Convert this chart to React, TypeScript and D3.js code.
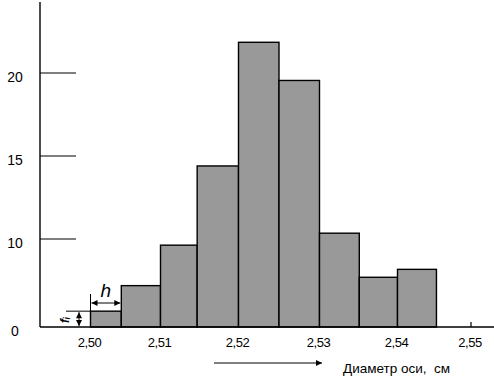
import React from 'react';
import * as d3 from 'd3';

// bin edges of the histogram (cm) and the frequency of each bin
const binEdges = [2.5, 2.5044, 2.51, 2.5147, 2.52, 2.525, 2.53, 2.5351, 2.54, 2.5453];
const frequencies = [1.8, 4.7, 9.3, 14.4, 21.85, 19.55, 10.35, 5.65, 6.55];

const xTicks = [2.5, 2.51, 2.52, 2.53, 2.54, 2.55];
const yTicks = [10, 15, 20];
const xTitle = 'Диаметр оси,  см';

const W = 494;
const H = 380;

// hand-drawn axes: the spacing between the labelled positions is not uniform
const x = d3.scaleLinear()
    .domain(xTicks)
    .range([90.5, 160.5, 238.5, 319.5, 397.5, 471]);

const y = d3.scaleLinear()
    .domain([0, 10, 20])
    .range([327, 239, 73]);

const fmt = (v: number) => v.toFixed(2).replace('.', ',');

const App: React.FC = () => {
    const bars = frequencies.map((f, i) => ({ x0: binEdges[i], x1: binEdges[i + 1], f }));
    const x0 = 40;
    const base = y(0);
    const b1 = bars[0];

    return (
        <svg width={W} height={H} style={{ position: 'absolute', left: 0, top: 0 }}
            fontFamily="'Liberation Sans', Arial, sans-serif">
            <defs>
                <marker id="ah" viewBox="0 0 10 10" refX="10" refY="5" markerWidth="7" markerHeight="6"
                    markerUnits="userSpaceOnUse" orient="auto-start-reverse">
                    <path d="M0,0 L10,5 L0,10 Z" fill="#000" />
                </marker>
            </defs>
            <rect width={W} height={H} fill="#fff" />

            {/* bars */}
            {bars.map((b, i) => (
                <rect key={i} x={x(b.x0)} y={y(b.f)} width={x(b.x1) - x(b.x0)} height={base - y(b.f)}
                    fill="#999999" stroke="#000" strokeWidth={1.4} />
            ))}

            {/* axes */}
            <line x1={x0} x2={x0} y1={2} y2={base} stroke="#000" strokeWidth={1.4} />
            <line x1={x0} x2={W} y1={base} y2={base} stroke="#000" strokeWidth={1.4} />
            {yTicks.map(t => (
                <line key={t} x1={x0} x2={76} y1={y(t)} y2={y(t)} stroke="#000" strokeWidth={1.2} />
            ))}
            <line x1={x(2.55)} x2={x(2.55)} y1={base - 5} y2={base} stroke="#000" strokeWidth={1.2} />

            {/* y labels */}
            {[0, ...yTicks].map(t => (
                <text key={t} x={15} y={y(t) + 4} dy="0.35em" textAnchor="middle" fontSize={14} fill="#000">{t}</text>
            ))}

            {/* x labels */}
            {xTicks.map(t => (
                <text key={t} x={x(t) - 1} y={342} dy="0.35em" textAnchor="middle" fontSize={13}
                    letterSpacing={-0.4} fill="#000">{fmt(t)}</text>
            ))}

            {/* axis title with arrow */}
            <line x1={214} x2={322} y1={363} y2={363} stroke="#000" strokeWidth={1.2} markerEnd="url(#ah)" />
            <text x={343} y={368} dy="0.35em" fontSize={13.5} fill="#000" style={{ whiteSpace: 'pre' }}>{xTitle}</text>

            {/* h : bin width */}
            <line x1={x(b1.x0)} x2={x(b1.x0)} y1={294} y2={y(b1.f)} stroke="#000" strokeWidth={1} />
            <line x1={x(b1.x0) + 1} x2={x(b1.x1) - 1} y1={303} y2={303} stroke="#000" strokeWidth={1}
                markerStart="url(#ah)" markerEnd="url(#ah)" />
            <text x={(x(b1.x0) + x(b1.x1)) / 2} y={297} textAnchor="middle" fontSize={19} fontStyle="italic" fill="#000">h</text>

            {/* f_i : bin frequency */}
            <line x1={66} x2={x(b1.x0)} y1={y(b1.f)} y2={y(b1.f)} stroke="#000" strokeWidth={1} />
            <line x1={79} x2={79} y1={y(b1.f) + 1} y2={base - 1} stroke="#000" strokeWidth={1}
                markerStart="url(#ah)" markerEnd="url(#ah)" />
            <text transform={`translate(65,${(y(b1.f) + base) / 2 + 1}) rotate(-90)`} textAnchor="middle"
                dy="0.35em" fontSize={12} fontStyle="italic" fontWeight="bold" fill="#000">fᵢ</text>
        </svg>
    );
};

export default App;
